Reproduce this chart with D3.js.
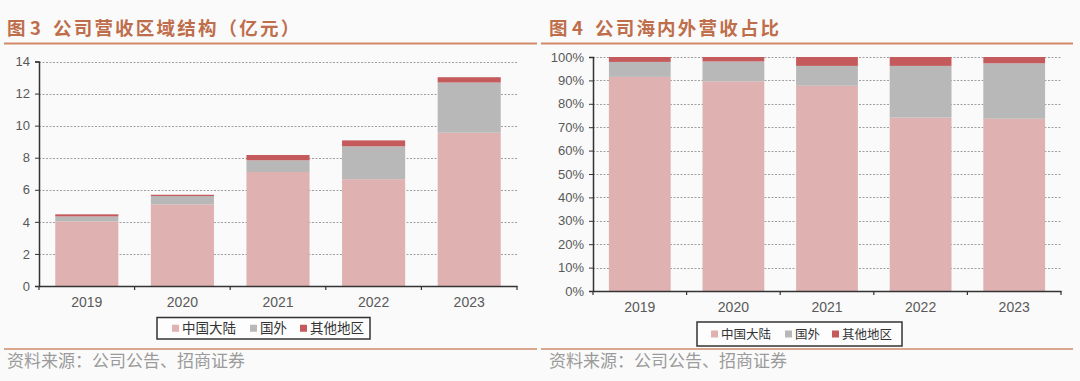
<!DOCTYPE html>
<html><head><meta charset="utf-8">
<script src="https://cdn.jsdelivr.net/npm/d3@7"></script>
<style>
html,body{margin:0;padding:0;background:#fafafa;}
svg{display:block;}
</style></head>
<body>
<svg id="c" width="1080" height="381"></svg>
<script>
// ---- data ----
const years = ['2019','2020','2021','2022','2023'];
const seriesNames = ['中国大陆','国外','其他地区'];
// 营收（亿元）
const revMainland = [4.03, 5.09, 7.11, 6.66, 9.56];
const revAbroad   = [0.31, 0.52, 0.73, 2.05, 3.13];
const revOther    = [0.13, 0.08, 0.33, 0.37, 0.33];
// 占比（%）
const pctMainland = [91.5, 89.6, 87.7, 74.1, 73.6];
const pctAbroad   = [6.4, 8.5, 8.5, 22.1, 23.7];
const pctOther    = [2.1, 1.9, 3.8, 3.8, 2.7];
const leftTicks  = [0,2,4,6,8,10,12,14];
const rightTicks = [0,10,20,30,40,50,60,70,80,90,100];
const titles = ['图 3 公司营收区域结构（亿元）','图 4 公司海内外营收占比'];
const sourceText = '资料来源：公司公告、招商证券';

// ---- style ----
const colors = ['#e0b1b1','#b8b8b8','#c45a5b'];
const titleColor = '#bf6e4c';
const ruleColor = '#d2896a';
const svg = d3.select('#c');

function drawChart(o){
  const g = svg.append('g');
  // title
  const parts = o.title.split(' ');
  const t = g.append('text').attr('y', 35).attr('fill', titleColor)
    .attr('font-family','"Noto Sans CJK SC", sans-serif').attr('font-weight', 700)
    .attr('font-size', 18.5).attr('letter-spacing', 2.2);
  t.append('tspan').attr('x', o.tx).text(parts[0]);
  t.append('tspan').attr('x', o.tx + 23).text(parts[1]);
  t.append('tspan').attr('x', o.tx + 46).text(parts.slice(2).join(' '));
  // top rule
  g.append('line').attr('x1', o.rx0).attr('x2', o.rx1).attr('y1', 43.5).attr('y2', 43.5)
    .attr('stroke', ruleColor).attr('stroke-width', 2);
  // bottom rule
  g.append('line').attr('x1', o.rx0).attr('x2', o.rx1).attr('y1', 349).attr('y2', 349)
    .attr('stroke', ruleColor).attr('stroke-width', 1.6);
  // source
  g.append('text').attr('x', o.tx).attr('y', 367).attr('fill', '#9b9b9b')
    .attr('font-family','"Noto Sans CJK SC", sans-serif').attr('font-size', 17).text(sourceText);

  const x = d3.scaleBand().domain(years).range([o.x0, o.x1]).paddingInner(0.34).paddingOuter(0.17);
  const y = d3.scaleLinear().domain([0, o.max]).range([o.yb, o.yt]);

  // gridlines
  g.append('g').selectAll('line').data(o.ticks.filter(d => d > 0)).join('line')
    .attr('x1', o.x0).attr('x2', o.x1 + 1).attr('y1', d => Math.round(y(d)) + 0.5).attr('y2', d => Math.round(y(d)) + 0.5)
    .attr('stroke', '#a0a0a0').attr('stroke-width', 1).attr('stroke-dasharray', '2,1.5');

  // bars
  const rows = years.map((yr, i) => ({year: yr, a: o.s[0][i], b: o.s[1][i], c: o.s[2][i]}));
  const stack = d3.stack().keys(['a','b','c'])(rows);
  g.append('g').selectAll('g').data(stack).join('g').attr('fill', (d, i) => colors[i])
    .selectAll('rect').data(d => d).join('rect')
    .attr('x', d => x(d.data.year)).attr('width', x.bandwidth())
    .attr('y', d => y(d[1])).attr('height', d => y(d[0]) - y(d[1]));

  // y axis
  const ya = g.append('g').attr('transform', `translate(${o.x0},0)`)
    .call(d3.axisLeft(y).tickValues(o.ticks).tickSize(4).tickPadding(5).tickFormat(o.fmt));
  ya.select('.domain').attr('stroke', '#333').attr('stroke-width', 1.5);
  ya.selectAll('.tick line').attr('stroke', '#333');
  ya.selectAll('.tick text').attr('fill', '#595959').attr('font-size', 13)
    .attr('font-family', '"Liberation Sans", Arial, sans-serif');

  // x axis
  const xa = g.append('g').attr('transform', `translate(0,${o.yb})`)
    .call(d3.axisBottom(x).tickSize(0).tickPadding(11));
  xa.select('.domain').attr('stroke', '#333').attr('stroke-width', 1.5);
  xa.selectAll('.tick text').attr('fill', '#595959').attr('font-size', 14)
    .attr('font-family', '"Liberation Sans", Arial, sans-serif');
  const step = x.step();
  const start = x(years[0]) - step * x.paddingOuter();
  xa.append('g').selectAll('line').data(d3.range(years.length + 1)).join('line')
    .attr('x1', i => start + i * step).attr('x2', i => start + i * step)
    .attr('y1', 0).attr('y2', 4).attr('stroke', '#333').attr('stroke-width', 1.2);

  // legend
  const L = o.legend;
  g.append('rect').attr('x', L.x).attr('y', L.y).attr('width', L.w).attr('height', L.h)
    .attr('fill', '#fdfdfd').attr('stroke', '#333').attr('stroke-width', 1.5);
  seriesNames.forEach((nm, i) => {
    g.append('rect').attr('x', L.mx[i]).attr('y', L.y + L.h / 2 - 3.5).attr('width', 7).attr('height', 7)
      .attr('fill', colors[i]);
    g.append('text').attr('x', L.mx[i] + 10).attr('y', L.y + L.h / 2 + L.fs * 0.36)
      .attr('font-size', L.fs).attr('fill', '#333')
      .attr('font-family', '"Noto Sans CJK SC", sans-serif').text(nm);
  });
}

drawChart({
  title: titles[0], tx: 7, rx0: 4, rx1: 537,
  x0: 39, x1: 517, yb: 286, yt: 61.5, max: 14, ticks: leftTicks, fmt: d3.format('d'),
  s: [revMainland, revAbroad, revOther],
  legend: {x: 157, y: 317.5, w: 213, h: 21.5, fs: 13.5, mx: [172, 250, 300]}
});
drawChart({
  title: titles[1], tx: 549, rx0: 541, rx1: 1073,
  x0: 593, x1: 1061, yb: 291, yt: 57, max: 100, ticks: rightTicks, fmt: d => d + '%',
  s: [pctMainland, pctAbroad, pctOther],
  legend: {x: 697, y: 322, w: 205, h: 24, fs: 12.5, mx: [711, 785, 832]}
});
</script>
</body></html>
